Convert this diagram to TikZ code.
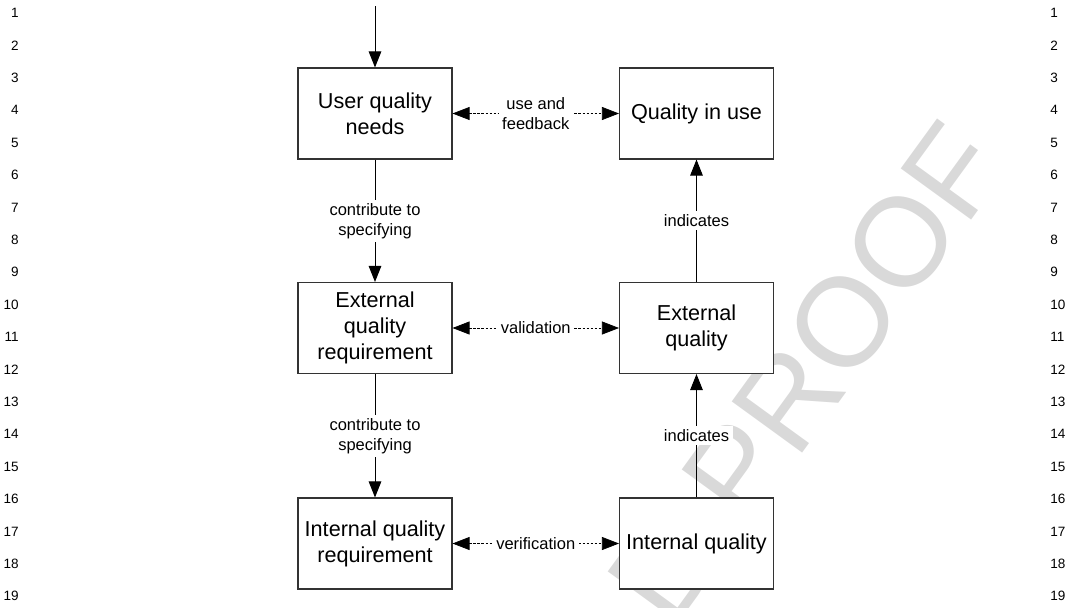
\documentclass[tikz,border=0pt]{standalone}
\usepackage{fontspec}
\setmainfont{Liberation Sans}
\usepackage{tikz}
\usetikzlibrary{shapes,arrows,arrows.meta,positioning,fit,calc}

\tikzset{
  qbox/.style={draw=black!80, line width=0.6pt, fill=white, minimum width=3.08cm,
    minimum height=1.82cm, align=center, inner sep=1pt,
    font=\fontsize{12.3}{14.8}\selectfont},
  flow/.style={line width=0.55pt, -{Triangle[length=0.32cm,width=0.25cm]}},
  link/.style={line width=0.4pt, dash pattern=on 1.4pt off 0.9pt,
    {Triangle[length=0.34cm,width=0.26cm]}-{Triangle[length=0.34cm,width=0.26cm]}},
  lbl/.style={fill=white, inner sep=2pt, align=center,
    font=\fontsize{9.4}{11.4}\selectfont},
  lnum/.style={inner sep=0pt, font=\fontsize{7.7}{9}\selectfont},
}

\begin{document}
\begin{tikzpicture}[x=0.2mm, y=-0.2mm]
\useasboundingbox (0,0) rectangle (1074,607);
% Proof watermark, behind everything
\begin{scope}
  \clip (0,0) rectangle (1074,607);
  \node[anchor=base west, inner sep=0pt, rotate=54, text=black!15,
    font=\fontsize{72}{72}\selectfont] (proof) at (672,632) {D PROOF};
\end{scope}
% Line numbers in both margins
\foreach \n in {1,...,19} {
  \node[lnum, anchor=east] (lnl\n) at (19, {13+32.4*(\n-1)}) {\n};
  \node[lnum, anchor=west] (lnr\n) at (1050, {13+32.4*(\n-1)}) {\n};
}
% Requirements (left) and qualities (right)
\node[qbox] (needs) at (375,113.5) {User quality\\needs};
\node[qbox] (extreq) at (375,328) {External\\quality\\requirement};
\node[qbox] (intreq) at (375,543.5) {Internal quality\\requirement};
\node[qbox] (inuse) at (696.5,113.5) {Quality in use};
\node[qbox] (extq) at (696.5,328) {External\\quality};
\node[qbox] (intq) at (696.5,543.5) {Internal quality};
% Entry arrow
\coordinate (entry) at (375,6);
\draw[flow] (entry) -- (needs.north);
% Vertical flows
\draw[flow] (needs) -- node[lbl] (spec1) {contribute to\\specifying} (extreq);
\draw[flow] (extreq) -- node[lbl] (spec2) {contribute to\\specifying} (intreq);
\draw[flow] (extq) -- node[lbl] (ind1) {indicates} (inuse);
\draw[flow] (intq) -- node[lbl] (ind2) {indicates} (extq);
% Dashed two-way links
\draw[link] (needs) -- node[lbl] (use) {use and\\feedback} (inuse);
\draw[link] (extreq) -- node[lbl] (valid) {validation} (extq);
\draw[link] (intreq) -- node[lbl] (verif) {verification} (intq);
\end{tikzpicture}
\end{document}
